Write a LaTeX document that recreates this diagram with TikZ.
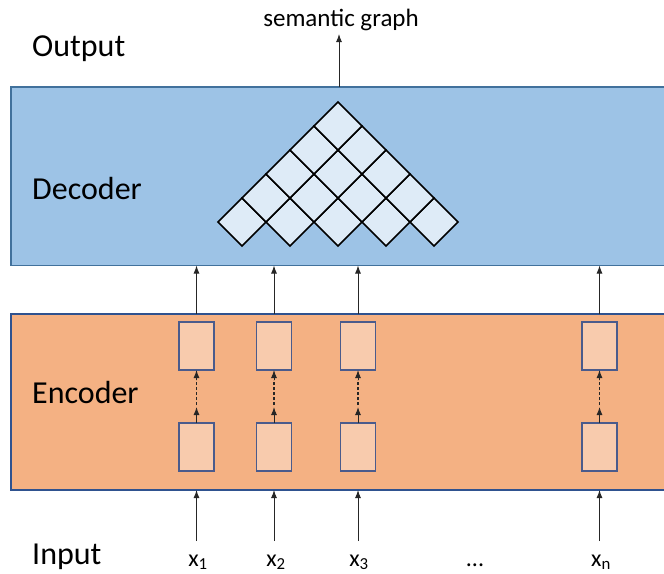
\documentclass[tikz,border=0pt]{standalone}
\usepackage{fontspec}
\setmainfont{Carlito}
\usetikzlibrary{arrows.meta,calc}
\definecolor{decfill}{HTML}{9DC3E6}
\definecolor{decline}{HTML}{41719C}
\definecolor{encfill}{HTML}{F4B183}
\definecolor{encline}{HTML}{2F528F}
\definecolor{cellfill}{HTML}{DEEBF7}
\definecolor{boxfill}{HTML}{F8CBAD}
\definecolor{boxline}{HTML}{4A5B8C}
\begin{document}
\begin{tikzpicture}[x=1pt,y=-1pt,
  band/.style={draw, line width=1.5pt, anchor=north west, inner sep=0pt, outer sep=0pt},
  cell/.style={rectangle, draw=black, fill=cellfill, line width=1.5pt, rotate=45,
    minimum size=33.94pt, inner sep=0pt, outer sep=0pt},
  encbox/.style={rectangle, draw=boxline, fill=boxfill, line width=1.2pt,
    minimum width=35pt, minimum height=48pt, inner sep=0pt, outer sep=0pt},
  biglab/.style={font=\fontsize{32}{38}\selectfont, inner sep=0pt, anchor=base west},
  xlab/.style={font=\fontsize{24}{28}\selectfont, inner sep=0pt, anchor=base},
  arr/.style={-{Latex[length=8pt,width=6pt]}, line width=1pt, black!85},
  dotline/.style={line width=1.2pt, black!85, dash pattern=on 3pt off 2pt}]
\useasboundingbox (0,0) rectangle (664,573);
\clip (0,0) rectangle (664,573);
% bands
\node[band, fill=decfill, draw=decline, minimum width=700pt, minimum height=178.5pt] (dec) at (11,87) {};
\node[band, fill=encfill, draw=encline, minimum width=700pt, minimum height=176pt] (enc) at (11,314) {};
% labels
\node[biglab] (out) at (32,56) {Output};
\node[biglab] (decl) at (32,199) {Decoder};
\node[biglab] (encl) at (32,403) {Encoder};
\node[biglab] (inl) at (32,564) {Input};
% semantic graph
\node[font=\fontsize{25}{30}\selectfont, inner sep=0pt, anchor=base] (sg) at (341,26) {semantic graph};
\coordinate (sgtip) at (339,34);
\draw[arr] (dec.north -| sgtip) -- (sgtip);
% diamond grid
\foreach \k in {0,...,4}{
  \pgfmathtruncatemacro\m{4-\k}
  \foreach \i in {0,...,\m}{
    \node[cell] (c\k\i) at ({242+48*\i+24*\k},{222-24*\k}) {};
  }
}
% encoder columns
\foreach \n/\x in {1/196.5, 2/274, 3/358, 4/599.5}{
  \node[encbox] (u\n) at (\x,346) {};
  \node[encbox] (l\n) at (\x,447) {};
  \draw[arr] (l\n.north) -- ++(0,-16) coordinate (m\n);
  \draw[dotline] ($(m\n)+(0,-2)$) -- ($(u\n.south)+(0,10)$);
  \draw[arr] ($(u\n.south)+(0,10)$) -- (u\n.south);
  \draw[arr] (enc.north -| u\n) -- (dec.south -| u\n);
  \coordinate (in\n) at (\x,541);
  \draw[arr] (in\n) -- (enc.south -| in\n);
}
% inputs
\node[xlab] (x1) at (198,566) {x\textsubscript{1}};
\node[xlab] (x2) at (276,566) {x\textsubscript{2}};
\node[xlab] (x3) at (359,566) {x\textsubscript{3}};
\node[xlab] (xd) at (475,566) {...};
\node[xlab] (xn) at (601,566) {x\textsubscript{n}};
\end{tikzpicture}
\end{document}
